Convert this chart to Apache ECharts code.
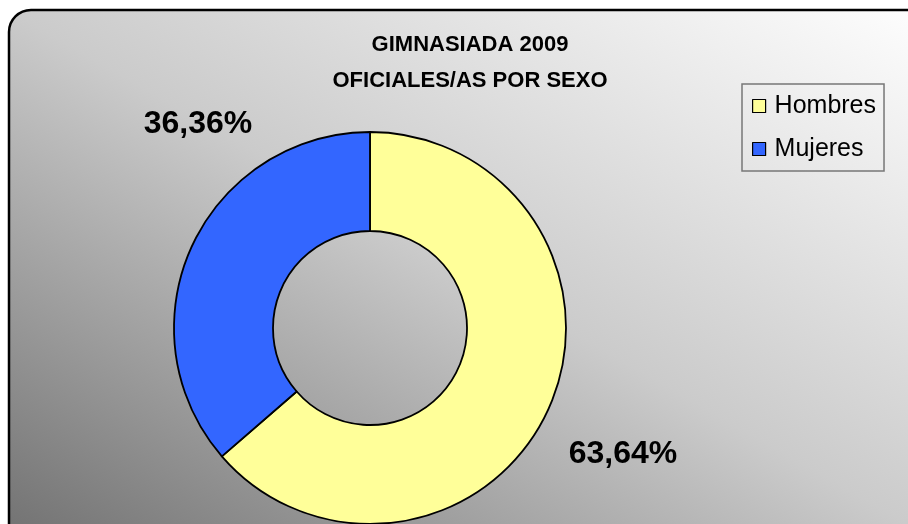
<!DOCTYPE html>
<html>
<head>
<meta charset="utf-8">
<script src="https://cdn.jsdelivr.net/npm/echarts@6/dist/echarts.min.js"></script>
<style>
  html, body { margin: 0; padding: 0; background: #fff; }
  #main { width: 908px; height: 524px; }
</style>
</head>
<body>
<div id="main"></div>
<script>
// datos del gráfico
const categorias = ['Hombres', 'Mujeres'];
const porcentajes = [63.64, 36.36];
const colores = ['#FFFF99', '#3366FF'];
const titulo = 'GIMNASIADA 2009\nOFICIALES/AS POR SEXO';

// posiciones de las etiquetas de porcentaje (centro del texto)
const posEtiquetas = [[623, 454], [198, 124]];

const chart = echarts.init(document.getElementById('main'), null, { renderer: 'canvas' });

const option = {
  animation: false,
  graphic: [
    {
      type: 'rect',
      z: -10,
      shape: { x: 9, y: 10, width: 925, height: 540, r: 22 },
      style: {
        // degradado: claro arriba a la derecha, oscuro abajo a la izquierda
        fill: new echarts.graphic.LinearGradient(237, 654, 679, -120, [
          { offset: 0, color: '#747474' },
          { offset: 0.5, color: '#cbcbcb' },
          { offset: 1, color: '#fdfdfd' }
        ], true),
        stroke: '#000',
        lineWidth: 2.5
      }
    }
  ],
  title: {
    text: titulo,
    left: 465,
    top: 22,
    textAlign: 'center',
    textStyle: {
      fontFamily: 'Liberation Sans, Arial, sans-serif',
      fontWeight: 'bold',
      fontSize: 22,
      lineHeight: 36,
      color: '#000'
    }
  },
  legend: {
    orient: 'vertical',
    left: 742,
    top: 84,
    padding: [8, 8, 8, 10],
    itemGap: 15,
    itemWidth: 13,
    itemHeight: 13,
    icon: 'rect',
    selectedMode: false,
    borderColor: '#777',
    borderWidth: 1.5,
    itemStyle: { borderColor: '#000', borderWidth: 1.2 },
    textStyle: {
      fontFamily: 'Liberation Sans, Arial, sans-serif',
      fontSize: 25,
      lineHeight: 28,
      color: '#000',
      padding: [0, 0, 0, 4]
    },
    data: categorias
  },
  series: [
    {
      type: 'pie',
      center: [370, 328],
      radius: [97, 196],
      startAngle: 90,
      clockwise: true,
      data: categorias.map((c, i) => ({
        name: c,
        value: porcentajes[i],
        itemStyle: { color: colores[i] }
      })),
      itemStyle: { borderColor: '#000', borderWidth: 1.8 },
      label: {
        show: true,
        position: 'outside',
        formatter: p => p.value.toFixed(2).replace('.', ',') + '%',
        fontFamily: 'Liberation Sans, Arial, sans-serif',
        fontWeight: 'bold',
        fontSize: 32,
        color: '#000'
      },
      labelLine: { show: false },
      labelLayout: params => ({
        x: posEtiquetas[params.dataIndex][0],
        y: posEtiquetas[params.dataIndex][1],
        align: 'center',
        verticalAlign: 'middle'
      })
    }
  ]
};

chart.setOption(option);
</script>
</body>
</html>
